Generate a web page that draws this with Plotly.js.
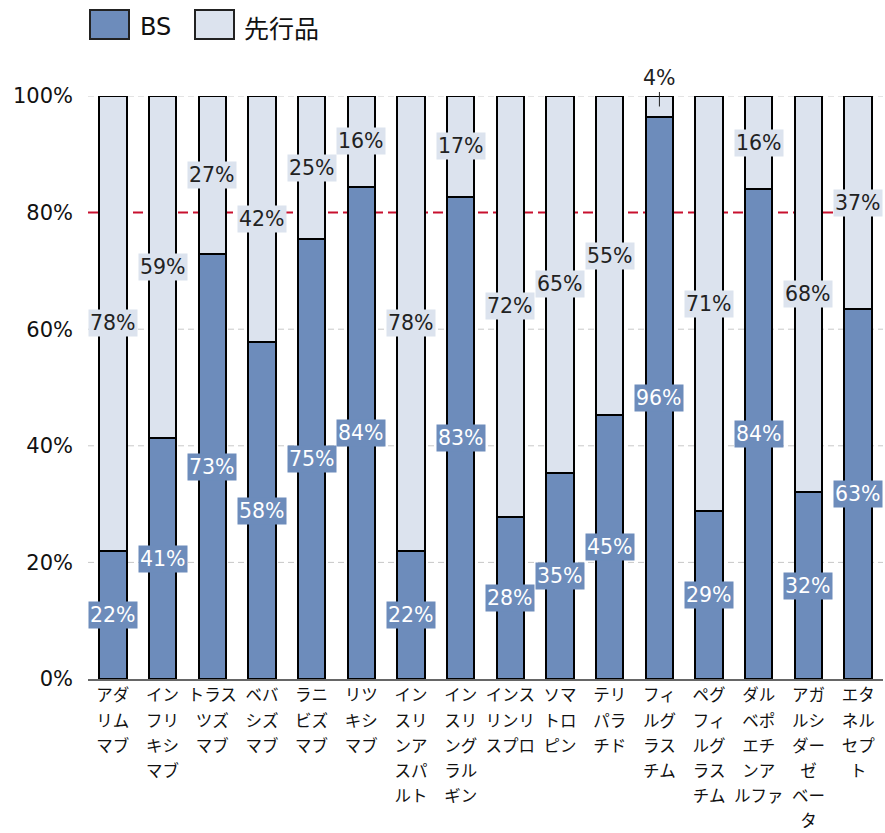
<!DOCTYPE html>
<html><head><meta charset="utf-8">
<script src="https://cdn.plot.ly/plotly-3.0.1.min.js"></script>
<style>body{margin:0;background:#fff}#c{width:885px;height:833px}</style>
</head><body><div id="c"></div>
<script>
const categories = [
  "アダ<br>リム<br>マブ",
  "イン<br>フリ<br>キシ<br>マブ",
  "トラス<br>ツズ<br>マブ",
  "ベバ<br>シズ<br>マブ",
  "ラニ<br>ビズ<br>マブ",
  "リツ<br>キシ<br>マブ",
  "イン<br>スリ<br>ンア<br>スパ<br>ルト",
  "イン<br>スリ<br>ング<br>ラル<br>ギン",
  "インス<br>リンリ<br>スプロ",
  "ソマ<br>トロ<br>ピン",
  "テリ<br>パラ<br>チド",
  "フィ<br>ルグ<br>ラス<br>チム",
  "ペグ<br>フィ<br>ルグ<br>ラス<br>チム",
  "ダル<br>ベポ<br>エチ<br>ンア<br>ルファ",
  "アガ<br>ルシ<br>ダー<br>ゼ<br>ベー<br>タ",
  "エタ<br>ネル<br>セプ<br>ト"
];
const seriesNames = ["BS", "先行品"];
const bsValues = [22.0, 41.3, 72.9, 57.8, 75.4, 84.4, 22.0, 82.7, 27.8, 35.4, 45.2, 96.4, 28.8, 84.0, 32.0, 63.4];
const originalValues = [78.0, 58.7, 27.1, 42.2, 24.6, 15.6, 78.0, 17.3, 72.2, 64.6, 54.8, 3.6, 71.2, 16.0, 68.0, 36.6];
const yTicks = [0, 20, 40, 60, 80, 100];
const targetLine = 80;

const BS_COLOR = "#6d8cbb";
const ORIG_COLOR = "#dce3ee";
const FONT = "Verdana, 'DejaVu Sans', 'Noto Sans CJK JP', sans-serif";
const JFONT = "'Noto Sans CJK JP', 'DejaVu Sans', sans-serif";

const xs = categories.map((c, i) => i);
const tickText = categories.map(c => c.split("<br>").map(s => "<span style='font-size:16.5px'>" + s + "</span>").join("<br>"));

const traces = [
  {type: "bar", name: seriesNames[0], x: xs, y: bsValues, width: 0.55,
   marker: {color: BS_COLOR, line: {color: "#000", width: 2}}, hoverinfo: "skip"},
  {type: "bar", name: seriesNames[1], x: xs, y: originalValues, width: 0.55,
   marker: {color: ORIG_COLOR, line: {color: "#000", width: 2}}, hoverinfo: "skip"}
];

const annotations = [];
xs.forEach((x, i) => {
  const b = bsValues[i], o = originalValues[i];
  annotations.push({x: x, y: b / 2, xref: "x", yref: "y", text: Math.round(b) + "%",
    showarrow: false, bgcolor: BS_COLOR, borderpad: 1,
    font: {family: FONT, size: 20.5, color: "#fff"}});
  if (o < 8) {
    annotations.push({x: x, y: b + o / 2, xref: "x", yref: "y", text: Math.round(o) + "%",
      showarrow: true, arrowhead: 0, arrowwidth: 1, arrowcolor: "#222", ax: 0, ay: -28,
      standoff: 0, font: {family: FONT, size: 20.5, color: "#222"}});
  } else {
    annotations.push({x: x, y: b + o / 2, xref: "x", yref: "y", text: Math.round(o) + "%",
      showarrow: false, bgcolor: ORIG_COLOR, borderpad: 1,
      font: {family: FONT, size: 20.5, color: "#222"}});
  }
});

const L = 88, R = 883, T = 96, B = 679;
const px = v => (v - L) / (R - L);
const py = v => (B - v) / (B - T);
const shapes = [];
yTicks.filter(v => v !== targetLine && v !== 0).forEach(v => shapes.push({
  type: "line", xref: "paper", yref: "y", x0: 0, x1: 1, y0: v, y1: v, layer: "below",
  line: {color: "#c8c8c8", width: 1, dash: "6px,4px"}}));
shapes.push({type: "line", xref: "paper", yref: "y", x0: 0, x1: 1, y0: targetLine, y1: targetLine,
  layer: "below", line: {color: "#c8102e", width: 2, dash: "10px,5px"}});
shapes.push({type: "rect", xref: "paper", yref: "paper", x0: px(90), x1: px(129), y0: py(39), y1: py(10),
  fillcolor: BS_COLOR, line: {color: "#222", width: 2}});
shapes.push({type: "rect", xref: "paper", yref: "paper", x0: px(195), x1: px(234), y0: py(39), y1: py(10),
  fillcolor: ORIG_COLOR, line: {color: "#222", width: 2}});
annotations.push({xref: "paper", yref: "paper", x: px(138), y: py(27), xanchor: "left", yanchor: "middle",
  text: seriesNames[0], showarrow: false, font: {family: FONT, size: 24, color: "#111"}});
annotations.push({xref: "paper", yref: "paper", x: px(242), y: py(27), xanchor: "left", yanchor: "middle",
  text: seriesNames[1], showarrow: false, font: {family: JFONT, size: 25, color: "#111"}});

const layout = {
  width: 885, height: 833,
  margin: {l: L, r: 885 - R, t: T, b: 833 - B, pad: 0},
  paper_bgcolor: "#fff", plot_bgcolor: "#fff",
  barmode: "stack",
  showlegend: false,
  xaxis: {
    tickmode: "array", tickvals: xs, ticktext: tickText,
    range: [-0.5, categories.length - 0.5],
    showgrid: false, zeroline: false, showline: true, linecolor: "#666", linewidth: 2,
    ticks: "", ticklabelstandoff: -3,
    tickfont: {family: JFONT, size: 19.4, color: "#111"}, fixedrange: true
  },
  yaxis: {
    range: [0, 100], tickmode: "array", tickvals: yTicks, ticktext: yTicks.map(v => v + "%"),
    showgrid: false, zeroline: false, showline: false, ticks: "", ticklabelstandoff: 14,
    tickfont: {family: FONT, size: 21, color: "#111"}, fixedrange: true
  },
  annotations: annotations,
  shapes: shapes
};

Plotly.newPlot("c", traces, layout, {displayModeBar: false, staticPlot: true});
</script>
</body></html>
